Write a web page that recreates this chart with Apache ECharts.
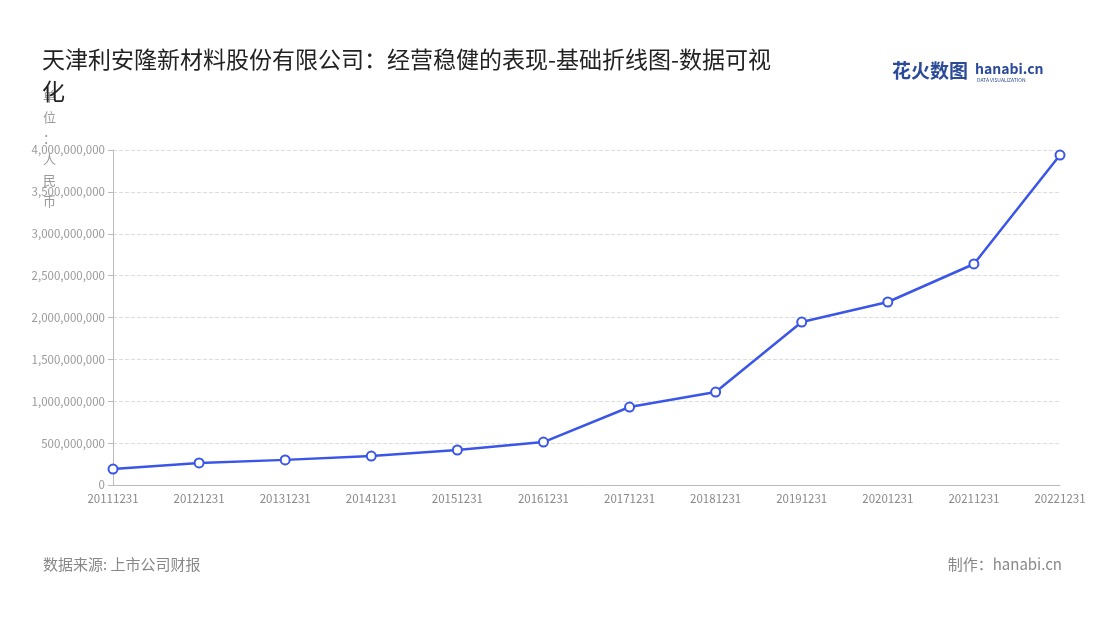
<!DOCTYPE html>
<html><head><meta charset="utf-8">
<script src="https://cdn.jsdelivr.net/npm/echarts@6/dist/echarts.min.js"></script>
<style>html,body{margin:0;background:#fff}#c{width:1100px;height:620px}</style>
</head><body><div id="c"></div>
<script>
const years = ['20111231','20121231','20131231','20141231','20151231','20161231','20171231','20181231','20191231','20201231','20211231','20221231'];
const revenue = [190000000,263000000,300000000,346000000,418000000,513000000,931000000,1110000000,1946000000,2185000000,2639000000,3940000000];

const font = '"Noto Sans CJK SC", "Noto Sans", sans-serif';
const chart = echarts.init(document.getElementById('c'));
chart.setOption({
  animation: false,
  textStyle: { fontFamily: font },
  title: {
    text: '天津利安隆新材料股份有限公司：经营稳健的表现-基础折线图-数据可视\n化',
    left: 37, top: 38,
    textStyle: { fontSize: 23, fontWeight: 'normal', color: '#222', lineHeight: 32, fontFamily: font }
  },
  grid: { left: 113, right: 40, top: 150, bottom: 135 },
  xAxis: {
    type: 'category', data: years, boundaryGap: false,
    axisLine: { lineStyle: { color: '#bbb' } },
    axisTick: { show: false },
    axisLabel: { color: '#888', fontSize: 11.5, interval: 0 }
  },
  yAxis: {
    type: 'value', min: 0, max: 4000000000, interval: 500000000,
    axisLine: { show: true, lineStyle: { color: '#bbb' } },
    axisTick: { show: true, lineStyle: { color: '#bbb' } },
    axisLabel: { color: '#999', fontSize: 11.5, formatter: v => v.toLocaleString('en-US') },
    splitLine: { lineStyle: { color: '#ddd', type: 'dashed' } }
  },
  series: [{
    type: 'line', data: revenue,
    symbol: 'circle', symbolSize: 9,
    lineStyle: { color: '#3a56e8', width: 2.5 },
    itemStyle: { color: '#fff', borderColor: '#3a56e8', borderWidth: 2 }
  }],
  graphic: [
    { type: 'text', left: 43, top: 86, style: { text: '单\n位\n：\n人\n民\n币', fill: '#999', font: '13px ' + font, lineHeight: 21, align: 'center' } },
    { type: 'text', left: 43, top: 557, style: { text: '数据来源: 上市公司财报', fill: '#888', font: '15px ' + font } },
    { type: 'text', right: 38, top: 557, style: { text: '制作：hanabi.cn', fill: '#888', font: '15px ' + font } },
    { type: 'text', left: 892, top: 61, style: { text: '花火数图', fill: '#2a4a9a', font: 'bold 19px ' + font } },
    { type: 'text', left: 975, top: 62, style: { text: 'hanabi.cn', fill: '#2a4a9a', font: 'bold 14px ' + font } },
    { type: 'text', left: 977, top: 78, style: { text: 'DATA VISUALIZATION', fill: '#2a4a9a', font: '5px ' + font } }
  ]
});
</script></body></html>
